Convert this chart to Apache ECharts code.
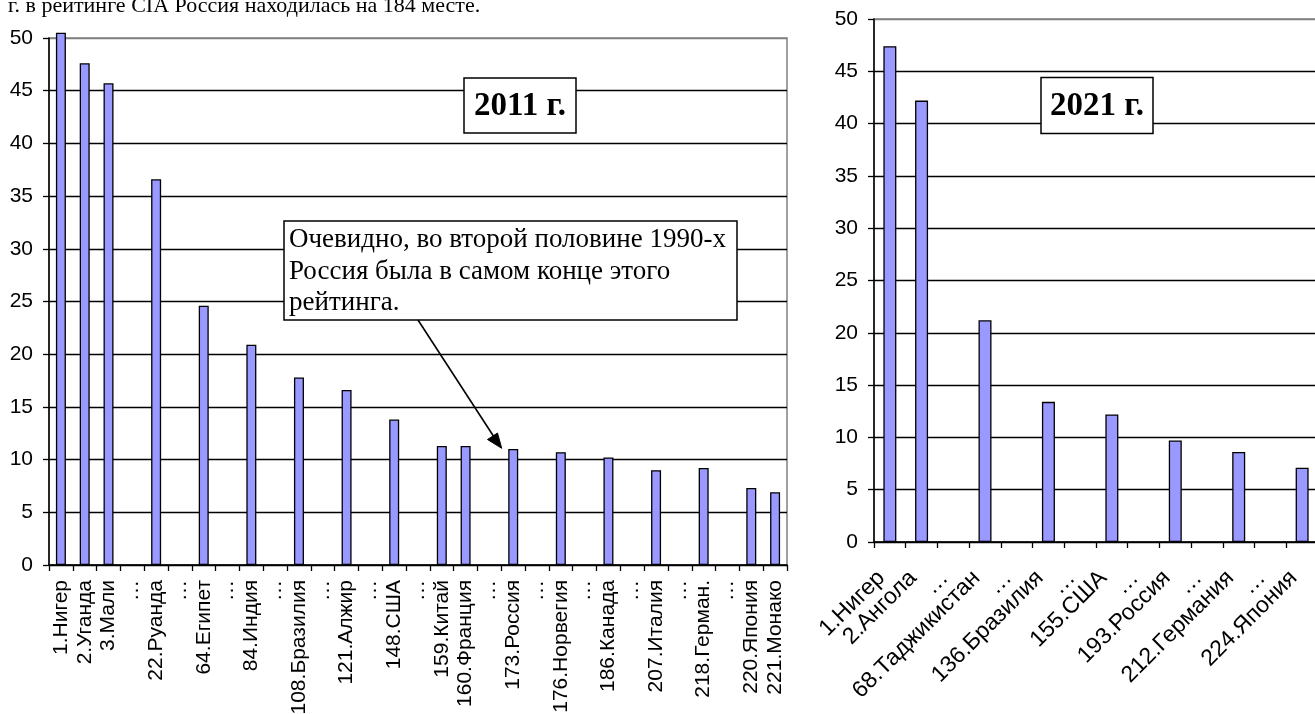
<!DOCTYPE html>
<html>
<head>
<meta charset="utf-8">
<script src="https://cdn.jsdelivr.net/npm/echarts@6/dist/echarts.min.js"></script>
<style>
html,body{margin:0;padding:0;background:#fff;}
#c{width:1315px;height:714px;}
</style>
</head>
<body>
<div id="c"></div>
<script>
var categories2011 = ['1.Нигер','2.Уганда','3.Мали','…','22.Руанда','…','64.Египет','…','84.Индия','…','108.Бразилия','…','121.Алжир','…','148.США','…','159.Китай','160.Франция','…','173.Россия','…','176.Норвегия','…','186.Канада','…','207.Италия','…','218.Герман.','…','220.Япония','221.Монако'];
var values2011 = [50.5,47.6,45.7,null,36.6,null,24.6,null,20.9,null,17.8,null,16.6,null,13.8,null,11.3,11.3,null,11.0,null,10.7,null,10.2,null,9.0,null,9.2,null,7.3,6.9];
var categories2021 = ['1.Нигер','2.Ангола','…','68.Таджикистан','…','136.Бразилия','…','155.США','…','193.Россия','…','212.Германия','…','224.Япония'];
var values2021 = [47.4,42.2,null,21.2,null,13.4,null,12.2,null,9.7,null,8.6,null,7.1];
var yTicks = [0,5,10,15,20,25,30,35,40,45,50];

var fam = '"Liberation Sans", Arial, sans-serif';
var splitColors = yTicks.map(function(v){ return v === 50 ? '#808080' : '#000'; });

function yAx(gi){
  return {
    type:'value', gridIndex:gi, min:yTicks[0], max:yTicks[yTicks.length-1], interval:5,
    axisLine:{show:true, lineStyle:{color:'#000', width:1.5}},
    axisTick:{show:true, length:6, lineStyle:{color:'#000', width:1.3}},
    axisLabel:{margin:16, color:'#000', fontFamily:fam, fontSize:21},
    splitLine:{show:true, lineStyle:{color:splitColors, width:1.4}}
  };
}
function xAx(gi, cats, rot, margin, fs, pad){
  return {
    type:'category', gridIndex:gi, data:cats, boundaryGap:true,
    axisLine:{show:true, lineStyle:{color:'#000', width:1.5}},
    axisTick:{show:true, length:6, interval:0, lineStyle:{color:'#000', width:1.3}},
    axisLabel:{interval:0, rotate:rot, margin:margin, color:'#000', fontFamily:fam, fontSize:fs, padding:pad},
    splitLine:{show:false}
  };
}

var chart = echarts.init(document.getElementById('c'));
chart.setOption({
  backgroundColor:'#fff',
  animation:false,
  grid:[
    {left:49, top:38, width:738, height:527, show:true, borderColor:'#808080', borderWidth:1.5, backgroundColor:'transparent', containLabel:false, outerBoundsMode:'none'},
    {left:874, top:19, width:444, height:523, show:true, borderColor:'#808080', borderWidth:1.5, backgroundColor:'transparent', containLabel:false, outerBoundsMode:'none'}
  ],
  xAxis:[xAx(0, categories2011, 90, 15, 21, 0), xAx(1, categories2021, 45, 24, 23, [0,12,0,0])],
  yAxis:[yAx(0), yAx(1)],
  series:[
    {type:'bar', xAxisIndex:0, yAxisIndex:0, data:values2011, barWidth:10, clip:false,
     itemStyle:{color:'#9999FF', borderColor:'#000', borderWidth:1.3}},
    {type:'bar', xAxisIndex:1, yAxisIndex:1, data:values2021, barWidth:13, clip:false,
     itemStyle:{color:'#9999FF', borderColor:'#000', borderWidth:1.3}}
  ],
  graphic:[
    {type:'text', x:8, y:17, z:100,
     style:{text:'г. в рейтинге CIA Россия находилась на 184 месте.', font:'22px "Liberation Serif", "Times New Roman", serif', fill:'#000', textVerticalAlign:'bottom', verticalAlign:'bottom'}},
    {type:'rect', z:100, shape:{x:464, y:78, width:112, height:55}, style:{fill:'#fff', stroke:'#000', lineWidth:1.5}},
    {type:'text', z:101, x:520, y:106,
     style:{text:'2011 г.', font:'bold 33px "Liberation Serif", "Times New Roman", serif', fill:'#000', textAlign:'center', align:'center', textVerticalAlign:'middle', verticalAlign:'middle'}},
    {type:'rect', z:100, shape:{x:1041, y:77.5, width:112, height:56}, style:{fill:'#fff', stroke:'#000', lineWidth:1.5}},
    {type:'text', z:101, x:1097, y:106,
     style:{text:'2021 г.', font:'bold 33px "Liberation Serif", "Times New Roman", serif', fill:'#000', textAlign:'center', align:'center', textVerticalAlign:'middle', verticalAlign:'middle'}},
    {type:'rect', z:100, shape:{x:284, y:221, width:453, height:99}, style:{fill:'#fff', stroke:'#000', lineWidth:1.5}},
    {type:'text', z:101, x:289, y:224,
     style:{text:'Очевидно, во второй половине 1990-х\nРоссия была в самом конце этого\nрейтинга.', font:'27px "Liberation Serif", "Times New Roman", serif', lineHeight:31.7, fill:'#000', textAlign:'left', align:'left', textVerticalAlign:'top', verticalAlign:'top'}},
    {type:'line', z:100, shape:{x1:418, y1:320, x2:496, y2:440}, style:{stroke:'#000', lineWidth:1.6}},
    {type:'polygon', z:100, shape:{points:[[501.7,448.3],[487.5,439.5],[497.5,433]]}, style:{fill:'#000', stroke:'#000', lineWidth:1}}
  ]
});
</script>
</body>
</html>
